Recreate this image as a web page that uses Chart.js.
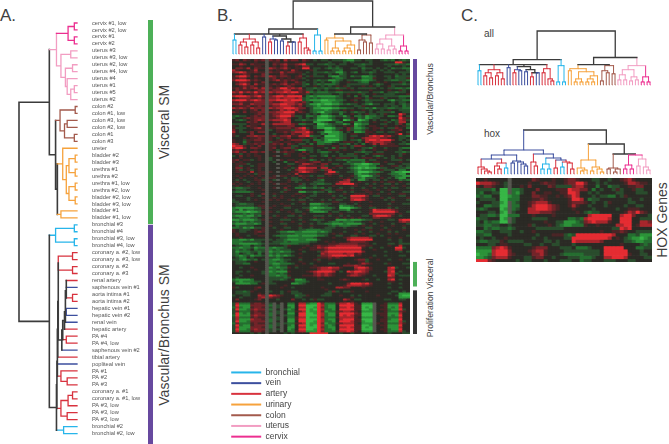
<!DOCTYPE html>
<html>
<head>
<meta charset="utf-8">
<title>Smooth muscle expression clusters</title>
<script src="https://cdn.jsdelivr.net/npm/chart.js@4"></script>
<style>
  html, body { margin: 0; padding: 0; background: #fff; }
  #page { position: relative; width: 669px; height: 444px; overflow: hidden; font-family: "Liberation Sans", Arial, sans-serif; color: #3f3f3f; }
  canvas { position: absolute; }
  .lbl { position: absolute; white-space: nowrap; line-height: 1; }
  .rot { transform: translate(-50%, -50%) rotate(-90deg); }
  .panel { font-size: 17px; }
  .big { font-size: 14px; }
  .small { font-size: 8.6px; }
  .sub { font-size: 10px; }
</style>
</head>
<body>
<div id="page">
  <div class="lbl panel" style="left:0;top:7px">A.</div>
  <div class="lbl panel" style="left:217px;top:7px">B.</div>
  <div class="lbl panel" style="left:461px;top:7px">C.</div>
  <div class="lbl big rot" style="left:164px;top:122px">Visceral SM</div>
  <div class="lbl big rot" style="left:164px;top:335px">Vascular/Bronchus SM</div>
  <div class="lbl small rot" style="left:430px;top:99px">Vascular/Bronchus</div>
  <div class="lbl small rot" style="left:430px;top:298px">Proliferation Visceral</div>
  <div class="lbl sub" style="left:484px;top:29px">all</div>
  <div class="lbl sub" style="left:484px;top:129px">hox</div>
  <div class="lbl big rot" style="left:662px;top:220px">HOX Genes</div>
</div>
<script>
// colours for the sample classes
const classColors = { br: '#27b5ea', ve: '#3c4f9e', ar: '#d8323e', ur: '#f6a23c', co: '#a35a4c', ut: '#f29dc2', ce: '#ec2f90', dk: '#3b3b3b' };

const legendLabels = ['bronchial', 'vein', 'artery', 'urinary', 'colon', 'uterus', 'cervix'];
const legendKeys = ['br', 've', 'ar', 'ur', 'co', 'ut', 'ce'];

const sampleNames = [
  'cervix #1, low', 'cervix #2, low', 'cervix #1', 'cervix #2',
  'uterus #3', 'uterus #3, low', 'uterus #2, low', 'uterus #4, low', 'uterus #4', 'uterus #1', 'uterus #5', 'uterus #2',
  'colon #2', 'colon #1, low', 'colon #3, low', 'colon #2, low', 'colon #1', 'colon #3',
  'ureter', 'bladder #2', 'bladder #3', 'urethra #1', 'urethra #2', 'urethra #1, low', 'urethra #2, low', 'bladder #2, low', 'bladder #3, low', 'bladder #1', 'bladder #1, low',
  'bronchial #3', 'bronchial #4', 'bronchial #3, low', 'bronchial #4, low',
  'coronary a. #2, low', 'coronary a. #3, low', 'coronary a. #2', 'coronary a. #3',
  'renal artery', 'saphenous vein #1', 'aorta intima #1', 'aorta intima #2', 'hepatic vein #1', 'hepatic vein #2', 'renal vein', 'hepatic artery',
  'PA #4', 'PA #4, low', 'saphenous vein #2', 'tibial artery', 'popliteal vein', 'PA #1', 'PA #2', 'PA #3',
  'coronary a. #1', 'coronary a. #1, low', 'PA #3, low', 'PA #3, low', 'PA #3, low', 'bronchial #2', 'bronchial #2, low'
];

// trees: [height, colour, ...children], a bare string is a leaf
const treeA = [65, 'dk',
  [31, 'dk',
    [23, 'ut',
      [10, 'ce', [3, 'ce', 'ce', 'ce'], [3, 'ce', 'ce', 'ce']],
      [18, 'ut', [7, 'ut', 'ut', 'ut'], [13, 'ut', [5, 'ut', 'ut', 'ut'], [11, 'ut', 'ut', [7, 'ut', [3, 'ut', 'ut', 'ut'], 'ut']]]]],
    [24, 'dk',
      [19, 'co', [2, 'co', 'co', 'co'], [14, 'co', [11, 'co', 'co', 'co'], [3, 'co', 'co', 'co']]],
      [22, 'dk',
        [16, 'ur', 'ur', [12, 'ur', [9, 'ur', [2, 'ur', 'ur', 'ur'], [2, 'ur', 'ur', 'ur']], [9, 'ur', [2, 'ur', 'ur', 'ur'], [2, 'ur', 'ur', 'ur']]]],
        [18, 'ur', 'ur', 'ur']]]],
  [31, 'dk',
    [24, 'br', [3, 'br', 'br', 'br'], [3, 'br', 'br', 'br']],
    [23, 'dk',
      [22.5, 'dk',
        [22, 'dk',
          [22, 'dk',
            [21.5, 'dk',
              [21, 'dk',
                [21, 'ar', [5, 'ar', 'ar', 'ar'], [5, 'ar', 'ar', 'ar']],
                [17, 'dk',
                  [16, 'dk',
                    [14, 'dk',
                      [13, 'dk',
                        [13, 'dk',
                          [12, 'dk', [12, 'dk', 'ar', 've'], [5, 'ar', 'ar', 'ar']],
                          [12, 've', 've', 've']],
                        've'],
                      'ar'],
                    [12, 'ar', 'ar', 'ar']],
                  've']],
              'ar'],
            've'],
          [18, 'ar', 'ar', [11, 'ar', 'ar', 'ar']]],
        [18, 'ar', [10, 'ar', [5, 'ar', 'ar', 'ar'], 'ar'], [11, 'ar', 'ar', 'ar']]],
      [15, 'br', 'br', 'br']]]];

const treeAll = [53, 'dk',
  [25, 'dk',
    [20, 'dk',
      [14, 'br', 'br', 'br'],
      [15, 'ar', [12, 'ar', [9, 'ar', 'ar', 'ar'], [7, 'ar', 'ar', 'ar']], [12, 'ar', [9, 'ar', 'ar', 'ar'], [6, 'ar', 'ar', 'ar']]],
      [17, 've', 've', 've'],
      [18, 'dk',
        [15, 've', [12, 'ar', 'ar', 'ar'], [14, 've', 've', 've']],
        [15, 'dk', [13, 've', 've', 've'], [12, 'dk', [8, 'ar', 'ar', 'ar'], [12, 've', 've', 've']]]],
      [16, 'ar', [12, 'ar', 'ar', 'ar'], [6, 'ar', 'ar', [4, 'ar', 'ar', 'ar']]]],
    [19, 'br', [3, 'br', 'br', 'br'], [3, 'br', 'br', 'br']]],
  [27, 'dk',
    [20, 'dk',
      [16, 'ur', [14, 'ur', 'ur', 'ur'], [13, 'ur', [6, 'ur', [3, 'ur', 'ur', 'ur'], [3, 'ur', 'ur', 'ur']], [9, 'ur', [6, 'ur', [3, 'ur', 'ur', 'ur'], [3, 'ur', 'ur', 'ur']], 'ur']]],
      [19, 'co', [14, 'co', [4, 'co', 'co', 'co'], [12, 'co', 'co', 'co']], [11, 'co', 'co', 'co']]],
    [19, 'ut',
      [15, 'ut', [10, 'ut', [5, 'ut', 'ut', 'ut'], [5, 'ut', 'ut', 'ut']], [8, 'ut', [4, 'ut', 'ut', 'ut'], [5, 'ut', 'ut', 'ut']]],
      [8, 'ce', [3, 'ce', 'ce', 'ce'], [3, 'ce', 'ce', 'ce']]]]];

const treeHox = [44, 'dk',
  [24, 've',
    [19, 've',
      [15, 've',
        [7, 'ar', 'ar', [5, 'ar', 'ar', [3, 'ar', 'ar', [2, 'ar', 'ar', 'ar']]]],
        [11, 'ar', [8, 'ar', 'ar', [5, 'ar', 'ar', 'ar']], [6, 'br', 'br', 'br']]],
      [13, 've', [11, 've', 've', 've'], [12, 've', 've', [10, 've', 've', [8, 've', 've', 've']]]]],
    [20, 've',
      [12, 'ar', 'ar', [8, 'ar', 'ar', 'ar']],
      [16, 've',
        [10, 'br', [5, 'br', 'br', 'br'], [5, 'br', 'br', 'br']],
        [14, 've', [6, 'ar', 'ar', 'ar'], [12, 'ar', [7, 'br', 'br', 'br'], [11, 'ar', 'ar', [5, 'ar', 'ar', 'ar']]]]]]],
  [30, 'dk',
    [14, 'ur', [6, 'ur', 'ur', [4, 'ur', [3, 'ur', 'ur', 'ur'], 'ur']], [7, 'ur', [3, 'ur', 'ur', 'ur'], [5, 'ur', 'ur', [2, 'ur', 'ur', 'ur']]]],
    [20, 'dk',
      [6, 'co', [5, 'co', 'co', 'co'], [5, 'co', [2, 'co', 'co', 'co'], 'co']],
      [19, 'ce',
        [9, 'ce', [5, 'ce', 'ce', 'ce'], [5, 'ce', 'ce', 'ce']],
        [15, 'ut', [8, 'ut', 'ut', 'ut'], [7, 'ut', 'ut', [4, 'ut', 'ut', 'ut']]]]]]];

// heat map levels, 0 bright green ... 4 black ... 8 bright red, x grey
const heatLevels = ['0', '1', '2', '3', '4', '5', '6', '7', '8', 'x'];
const heatColors = ['#37b646', '#2c9339', '#256e30', '#2a4c2d', '#2b2a25', '#4a2526', '#732429', '#a8262c', '#e52c32', '#55564e'];

const heatB = [
  '56465465 6x656475 66465434 33433321 13343344 32324323',
  '44544454 4x455454 44454444 44344434 34444344 44448854',
  '55764655 5x465675 56783343 32334334 43323344 43332332',
  '44544455 4x454564 45466444 44343444 44334444 44344434',
  '46657465 5x765675 45588433 43232344 33423343 43423322',
  '75444574 4x545454 75444534 44433244 44434434 34344443',
  '67875565 5x655756 65543433 32331134 32433234 43334333',
  '44565444 6x444654 44534434 44344234 44444344 44443434',
  '57886465 6x765665 45643533 34211334 23311234 43342333',
  '55664454 4x564545 45534444 44432234 44422254 44343335',
  '68887565 4x567565 65443432 33112343 32211234 43322332',
  '45665454 6x444564 46534434 34423445 44322445 45444534',
  '46786475 5x565675 65532432 32223443 33333432 34433323',
  '44565654 5x545456 54434454 34345453 44454543 44534444',
  '56575675 7x656886 76743323 32332335 34333334 34332232',
  '46555456 6x566677 55653343 43445544 54444544 44544534',
  '76867686 7x767787 88657232 22332233 33233433 24332334',
  '55644565 5x545656 65553433 33344345 44534454 43334445',
  '78887678 6x678878 88842121 11112343 42432433 33333222',
  '45666556 5x667677 76732323 22223344 45543544 53444334',
  '78886787 6x778887 88832111 00112234 53432333 34213322',
  '55655566 6x655677 76563422 11122344 45443344 44434334',
  '66755766 6x677887 76753110 10011232 33432133 43334323',
  '45556456 5x566777 65643321 22233444 43354444 43433423',
  '76765766 6x767788 87664311 00011223 34332313 33223322',
  '45454564 6x455767 67544322 21233454 54454344 34544333',
  '65464556 6x667788 85654321 02233234 32334343 33324433',
  '44444456 5x566777 64443434 22344244 54345334 35444864',
  '32334565 6x567888 63342231 00123313 42231223 34223743',
  '34456566 6x556776 44343431 11234433 54231233 44444865',
  '43234567 6x677787 43323320 00023401 34012434 33423763',
  '44446564 5x455677 44454411 23442244 52233454 45343774',
  '33334555 7x577777 65223340 01233312 40122444 33443642',
  '54346554 5x455556 64454431 12234454 51234554 45445453',
  '53334567 5x556666 56783431 10013346 31123455 34336542',
  '64344455 5x345555 36676444 41123546 32235454 54455644',
  '74335646 6x445565 67778643 20011243 41125543 34335443',
  '54444644 4x434454 65577544 23111234 55445454 45445845',
  '53446676 6x565667 55778233 40001234 33445787 86754332',
  '44454556 5x543556 44554534 31111234 54467777 66544334',
  '54435566 5x545645 66633422 31000234 33257887 88864343',
  '54425455 5x355455 45543452 21123455 54347677 76644434',
  '76435565 6x565646 54334242 23344332 43424575 76554332',
  '87754546 4x554545 33455545 54455454 36654434 55555444',
  '78864665 4x564566 35433344 43425334 34433254 43444322',
  '56544454 4x543454 53113343 44555454 44534454 45444344',
  '67564665 6x45x565 54464343 22343444 43323343 34443323',
  '45345454 4x44443 54454544 43344434 33544345 55444435',
  '34645455 4x45x455 44554334 32434333 33434432 34434344',
  '44544445 4x34444 44443454 44454555 54345554 54343454',
  '56455345 4x34x545 54555234 34343323 22224334 44433343',
  '54544444 4x4344 24465545 66445444 42333254 55454445',
  '45553445 5x44x443 34577654 66433433 21100122 44334433',
  '45344345 5x444445 44665555 63445544 32111224 54455343',
  '46645445 4x44x454 35887774 77454343 21010112 33443332',
  '45345345 4x44444 34677665 53674444 43212223 45333422',
  '45554745 5x54x444 55787654 45883443 32000122 34421100',
  '44445435 5x44444 54744444 44665544 44212233 54432211',
  '45454545 4x45x554 54655343 34544344 53100133 44432211',
  '44544454 5x55443 43345444 55444454 54321333 45434211',
  '43434455 3x43x445 33345443 24444467 34113433 43444232',
  '45443445 4x54444 54344443 33444577 74454445 45455454',
  '54544545 4x45x554 44534332 23347788 85443434 43343443',
  '45445444 4x44444 54433443 44445444 45544454 45445445',
  '32233445 4x45x464 42213323 24344344 34434434 43433443',
  '43334444 5x44443 54454444 45334554 45445544 54454444',
  '32222344 4x444354 44113323 34234434 34445544 34434433',
  '44444544 6x454444 45544434 44544454 45554545 44544554',
  '43344543 4x434544 54454334 44434344 88886433 44444334',
  '44443444 5x454544 44543444 44454434 77765444 54354445',
  '34443454 4x545445 34334344 34343344 78875444 43434443',
  '33444444 5x444444 44554444 54455444 54544544 44454444',
  '43223344 4x444544 34434111 23344334 43444444 44344433',
  '43333345 5x454455 44444222 33444122 34544544 44544444',
  '21111123 5x544433 44433101 12234000 12344334 44343444',
  '23132233 4x444544 43445122 33344221 44444587 77765444',
  '21110112 5x543445 43344211 12433443 34344588 88886443',
  '33323233 5x444444 54454444 44544544 44444666 66664544',
  '21121132 4x435443 34344433 34344343 44433478 88754344',
  '33222334 4x544454 44544454 54445454 54544466 55544444',
  '11211123 5x444333 44344323 34441112 11123344 44334788',
  '32323233 4x544544 54454443 44322322 23344544 54444676',
  '21112212 4x444334 44344343 32211121 11134434 44434443',
  '42333344 4x544454 44544544 44323222 33454544 54454454',
  '22312133 5x434433 44344344 43334434 44443344 43444434',
  '54333454 5x444544 44332222 33344444 45454544 54544454',
  '54334456 5x443221 12211112 12344434 44344344 44343444',
  '45444454 4x444333 32222223 33454544 45454445 44545444',
  '45443445 5x432221 11211112 23443344 33444334 34444443',
  '44544444 4x444332 22222234 44454456 77777644 44544544',
  '22112133 3x343321 11221113 44444447 88888844 44344344',
  '22233333 4x433323 22222334 45454445 66665444 44444344',
  '22111112 3x333222 22333444 44555666 66555434 44334333',
  '43322433 4x444435 44445456 55667777 77665544 44544744',
  '22122312 2x212234 44454557 67888888 88854344 34448834',
  '32323423 3x232333 44544555 56777777 77744454 44447744',
  '31222332 3x122122 34434443 67888888 88864444 43444343',
  '32432342 4x232333 44544444 76777767 75644444 44444444',
  '32123122 3x121212 34444443 66788887 85544434 43444334',
  '43224344 4x332344 44544445 55656544 44444544 44444444',
  '33212324 3x211233 44344453 44544444 45663445 44344543',
  '43334454 4x223234 44544445 44444444 44553444 44444444',
  '43322444 4x211222 34454344 44334445 44576544 43544433',
  '44444444 4x322334 45444454 44444466 67654444 44444444',
  '44344544 4x121225 43444556 77877544 47887544 44783443',
  '44444454 4x223234 44444446 77766444 46776544 44774444',
  '43343444 3x121115 44445678 88874348 78876444 43784344',
  '43444444 3x223234 44444467 67654445 67665444 44773444',
  '44344544 4x221225 44455567 67654446 77654434 44874333',
  '43444444 4x333323 44444445 44444444 44444444 44664444',
  '21111244 4x333234 51124445 54444565 44453443 44784344',
  '32122233 4x344444 42223444 44444444 44444444 44554444',
  '41111224 5x334444 11234444 44344446 88878644 44344344',
  '44444444 4x444454 44444444 44444457 77766544 44444444',
  '53444456 4x444544 34444444 54447766 44454444 44344344',
  '44444454 4x444444 44444444 45444444 44444444 44444444',
  '43323544 4x344345 33444444 44363433 54445444 44433434',
  '43333445 4x444344 33344444 43344444 44444444 44344111',
  '34433447 6x876544 42335444 33344544 34344445 44443100',
  '44344446 7x655444 43344444 44444444 54444444 44444111',
  '46444456 4x443444 64434353 34444476 43344444 43344334',
  '44444444 4x444444 44444444 44444454 54444444 44444444',
  '37222566 5x3x4x42 24772118 62225778 75411 1x4 45222744',
  '38111666 6x2x3x41 14880008 72114888 85500 0x4 55111844',
  '27211566 5x3x3x42 14770018 62114778 75501 0x4 45121744',
  '38112676 6x2x4x31 24880108 72214888 85500 1x4 55211834',
  '36222565 5x3x3x42 25670118 61225677 65411 1x4 45222654',
  '38121566 5x2x3x41 14880018 72115888 86500 0x5 55111744',
  '28111676 6x2x4x32 24880008 72114878 75500 0x4 55121844',
  '37222565 5x3x3x42 25770118 62225777 75411 1x4 45222744',
  '37111766 5x2x3x41 15880008 72114788 85500 0x4 55211844',
  '38112666 6x2x4x41 14880018 72214888 75510 0x4 55111734',
  '26222565 5x3x3x32 25670118 61225677 75411 1x5 45222754',
  '38211566 6x2x3x42 14880108 72124888 85500 1x4 55111844',
  '37111666 5x2x4x41 14770008 62114778 75501 0x4 45111744',
  '38112676 6x3x3x41 24880018 72214888 85500 0x4 55211844',
  '37222566 5x3x4x42 25771118 62225778 75411 1x4 45222734',
  '44444343 4x444434 34444888 88444344 34444344 44344433'
];

const heatC = [
  '44544444x44444654445445665444334434456754444',
  '87776543x44445445655445668864434344445776554',
  '54665443x44546444465333367754424423344556644',
  '33332400x22344464444555877664243443534453344',
  '32443300x21344644554455887443434444334443334',
  '23224400122444665544545687444343322435444444',
  '43333400222444556544444588742334444444344344',
  '34443310x23445677754444566654344354444334444',
  '44223300x22445788876544575443444344443443344',
  '32344401x23447788876544454444344444344555444',
  '44433410x34447776665444445432334444445768654',
  '43322300222444544445444444447888884478864443',
  '23344401x34444333344444223278888874488844333',
  '34232200x34444444544331112367877754488844776',
  '33223344344445344454321122254454444778845777',
  '44232233234444433333334444444444443387844444',
  '22334433344344544444444444444445445565443333',
  '33224444344444434445553238888888887444223111',
  '43443445444444344344443388888888874543211012',
  '32233354333344444334344487777776444443321122',
  '44433455444433443443344434444444444454444323',
  '22226787544444566644433342223444888884442233',
  '11117888644445677544443333333334888888444344',
  '01127888654444667544432222233334888888544334',
  '11236777544433566443444333222344778887444433',
  '88865444443433444344433344233444333444334444'
];

// side bars, first and last row or leaf covered by each
const sideSpansA = [[-0.3, 28.4], [28.6, 59.5]];
const sideColorsA = ['#4db058', '#67499f'];
const sideSpansB = [[0, 27], [68, 76], [77.5, 92]];
const sideColorsB = ['#67499f', '#4db058', '#353535'];

const page = document.getElementById('page');

function addCanvas(left, top, width, height) {
  const c = document.createElement('canvas');
  c.width = width;
  c.height = height;
  c.style.left = left + 'px';
  c.style.top = top + 'px';
  c.style.width = width + 'px';
  c.style.height = height + 'px';
  page.appendChild(c);
  return c;
}

// walks a tree, returns one dataset per colour with the branches as broken lines
function treeDatasets(tree, swap, thin) {
  const segs = {};
  let next = 0;
  const push = (c, a0, h0, a1, h1) => {
    (segs[c] = segs[c] || []).push(
      swap ? { x: h0, y: a0 } : { x: a0, y: h0 },
      swap ? { x: h1, y: a1 } : { x: a1, y: h1 },
      { x: NaN, y: NaN });
  };
  const walk = node => {
    if (typeof node === 'string') return { pos: next++, h: 0, c: node };
    const h = node[0], c = node[1];
    const kids = node.slice(2).map(walk);
    const first = kids[0].pos, last = kids[kids.length - 1].pos;
    kids.forEach(k => push(k.c, k.pos, k.h, k.pos, h));
    push(c, first, h, last, h);
    return { pos: (first + last) / 2, h, c };
  };
  walk(tree);
  const data = Object.keys(segs).map(k => ({
    data: segs[k],
    borderColor: classColors[k],
    borderWidth: (k === 'dk' ? 1.6 : 1.3) - thin,
    borderCapStyle: 'square',
    pointRadius: 0,
    showLine: true,
    clip: false,
    spanGaps: false
  }));
  return { data, leaves: next };
}

const noPlugins = { legend: { display: false }, tooltip: { enabled: false } };

// dendrogram lying on its side with the sample names as the y axis ticks
function drawTreeA() {
  const t = treeDatasets(treeA, true, 0);
  new Chart(addCanvas(0, 0, 240, 444), {
    type: 'scatter',
    data: { datasets: t.data },
    options: {
      responsive: false, animation: false, events: [],
      layout: { padding: { top: 23, bottom: 3, left: 19, right: 0 } },
      plugins: noPlugins,
      scales: {
        x: { type: 'linear', display: false, reverse: true, min: 0, max: 65 },
        y: {
          type: 'linear', position: 'right', reverse: true, min: 0, max: sampleNames.length - 1,
          grid: { display: false }, border: { display: false },
          afterFit: s => { s.width = 163; },
          ticks: {
            stepSize: 1, autoSkip: false, padding: 7, color: '#555', maxRotation: 0,
            font: { family: '"Liberation Sans"', size: 5.7 },
            callback: v => sampleNames[v]
          }
        }
      }
    }
  });
}

// upright dendrogram, pad keeps the line ends inside the canvas
function drawTreeUp(tree, left, right, top, bottom) {
  const pad = 3;
  const t = treeDatasets(tree, false, 0.3);
  new Chart(addCanvas(left - pad, top - pad, right - left + pad * 2, bottom - top + pad * 2), {
    type: 'scatter',
    data: { datasets: t.data },
    options: {
      responsive: false, animation: false, events: [],
      layout: { padding: pad },
      plugins: noPlugins,
      scales: {
        x: { type: 'linear', display: false, min: 0, max: t.leaves - 1 },
        y: { type: 'linear', display: false, min: 0, max: tree[0] }
      }
    }
  });
}

// stacked bars, one dataset per row, one colour per cell
function drawHeat(rawRows, left, top, width, height) {
  const rows = rawRows.map(r => r.replace(/ /g, ''));
  const nCols = Math.max(...rows.map(r => r.length));
  const cols = Array.from({ length: nCols }, (_, i) => i);
  const datasets = rows.map(r => ({
    data: cols.map(() => 1),
    backgroundColor: cols.map(i => heatColors[heatLevels.indexOf(r[i] || '4')]),
    borderWidth: 0,
    barPercentage: 1,
    categoryPercentage: 1
  }));
  new Chart(addCanvas(left, top, width, height), {
    type: 'bar',
    data: { labels: cols, datasets },
    options: {
      responsive: false, animation: false, events: [],
      plugins: noPlugins,
      scales: {
        x: { display: false, stacked: true },
        y: { display: false, stacked: true, reverse: true, min: 0, max: rows.length }
      }
    }
  });
}

function drawSideBars(spans, colors, yMin, yMax, left, top, width, height) {
  new Chart(addCanvas(left, top, width, height), {
    type: 'bar',
    data: {
      labels: [''],
      datasets: spans.map((s, i) => ({
        data: [s], backgroundColor: colors[i], borderWidth: 0,
        barPercentage: 1, categoryPercentage: 1, grouped: false
      }))
    },
    options: {
      responsive: false, animation: false, events: [],
      plugins: noPlugins,
      scales: {
        x: { display: false },
        y: { display: false, reverse: true, min: yMin, max: yMax }
      }
    }
  });
}

function drawLegend() {
  new Chart(addCanvas(229, 366, 200, 78), {
    type: 'line',
    data: {
      labels: [],
      datasets: legendLabels.map((name, i) => ({
        label: name, data: [],
        borderColor: classColors[legendKeys[i]],
        backgroundColor: classColors[legendKeys[i]],
        borderWidth: 0
      }))
    },
    options: {
      responsive: false, animation: false, events: [],
      scales: { x: { display: false }, y: { display: false } },
      plugins: {
        tooltip: { enabled: false },
        legend: {
          position: 'left', align: 'start',
          labels: {
            boxWidth: 30, boxHeight: 2, padding: 2.2, color: '#444',
            font: { family: '"Liberation Sans"', size: 8.5 }
          }
        }
      }
    }
  });
}

drawTreeA();
drawSideBars(sideSpansA, sideColorsA, -0.5, 59.5, 148, 19, 5, 425);

drawTreeUp(treeAll, 233, 408, 1, 54);
drawHeat(heatB, 232, 59, 178, 275);
drawSideBars(sideSpansB, sideColorsB, 0, 92, 413, 59, 4, 275);
drawLegend();

drawTreeUp(treeAll, 478, 650, 31, 85);
drawTreeUp(treeHox, 478, 650, 130, 174);
drawHeat(heatC, 476, 178, 176, 84);
</script>
</body>
</html>
